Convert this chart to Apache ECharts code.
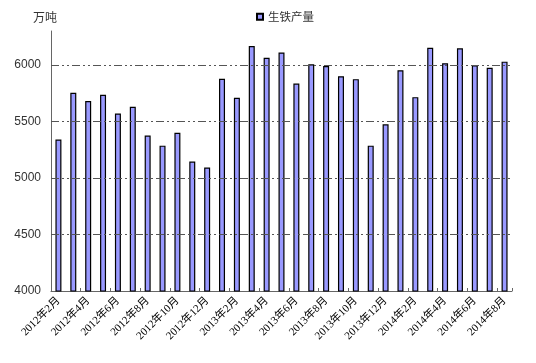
<!DOCTYPE html>
<html><head><meta charset="utf-8">
<script src="https://cdn.jsdelivr.net/npm/echarts@6/dist/echarts.min.js"></script>
<style>html,body{margin:0;padding:0;background:#fff}#c{width:536px;height:363px}</style>
</head><body><div id="c"></div>
<script>
const categories = ['2012年2月','2012年3月','2012年4月','2012年5月','2012年6月','2012年7月','2012年8月','2012年9月','2012年10月','2012年11月','2012年12月',
'2013年1月','2013年2月','2013年3月','2013年4月','2013年5月','2013年6月','2013年7月','2013年8月','2013年9月','2013年10月','2013年11月','2013年12月',
'2014年1月','2014年2月','2014年3月','2014年4月','2014年5月','2014年6月','2014年7月','2014年8月'];
const ironOutput = [5340,5753,5680,5735,5570,5630,5375,5286,5400,5145,5093,
5877,5710,6167,6063,6110,5835,6005,5991,5900,5874,5286,5474,
5953,5715,6152,6015,6147,5997,5974,6029];
const gridValues = [4500,5000,5500,6000];
const seriesName = '生铁产量';
const unitName = '万吨';

const chart = echarts.init(document.getElementById('c'));
chart.setOption({
  animation:false,
  backgroundColor:'#fff',
  legend:{
    data:[{name:seriesName, icon:'rect'}], top:6, left:251, itemWidth:6, itemHeight:6, itemGap:4,
    textStyle:{fontFamily:'Noto Sans CJK SC', fontSize:11.5, color:'#333'}
  },
  grid:{left:51, right:24, top:31, bottom:72},
  xAxis:{
    type:'category', data:categories,
    axisLine:{lineStyle:{color:'#666', width:1}},
    axisTick:{show:true, inside:true, length:3, interval:1, lineStyle:{color:'#666'}},
    axisLabel:{interval:1, rotate:45, fontSize:11, color:'#000', margin:8,
      fontFamily:'"Liberation Serif","Noto Sans CJK SC",serif'}
  },
  yAxis:{
    type:'value', min:4000, max:6300, interval:500,
    name:unitName, nameLocation:'end', nameGap:8,
    nameTextStyle:{fontFamily:'Noto Sans CJK SC', fontSize:12, color:'#333', align:'right', padding:[0,-6,0,0]},
    axisLine:{show:true, lineStyle:{color:'#666', width:1}},
    axisTick:{show:false},
    splitLine:{show:false},
    axisLabel:{fontSize:12, color:'#333', margin:10, fontFamily:'"Liberation Sans",Arial,sans-serif',
      formatter:v => (v % 500 === 0 ? String(v) : '')}
  },
  series:[{
    name:seriesName, type:'bar', data:ironOutput, barWidth:6,
    itemStyle:{color:'#9999FF', borderColor:'#000', borderWidth:1.2},
    markLine:{
      silent:true, symbol:'none', label:{show:false},
      lineStyle:{color:'#555', width:1, type:[8,3,2,3,2,3]},
      data:gridValues.map(v => ({yAxis:v}))
    }
  }]
});
</script></body></html>
